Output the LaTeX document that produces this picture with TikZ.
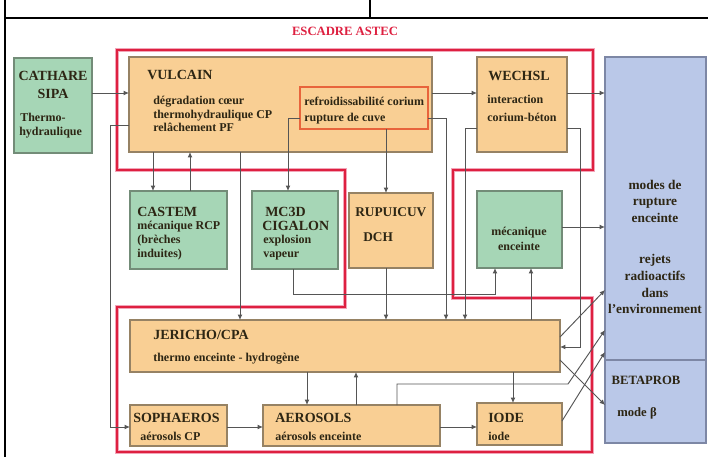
\documentclass[tikz,border=0pt]{standalone}
\usepackage{fontspec}
\setmainfont{Liberation Serif}
\usetikzlibrary{arrows.meta,fit}
\definecolor{ofill}{RGB}{249,207,148}
\definecolor{odraw}{RGB}{150,130,100}
\definecolor{gfill}{RGB}{166,214,182}
\definecolor{gdraw}{RGB}{115,140,120}
\definecolor{bfill}{RGB}{186,200,232}
\definecolor{bdraw}{RGB}{125,135,165}
\definecolor{redf}{RGB}{222,32,64}
\definecolor{pinkf}{RGB}{242,165,185}
\definecolor{linec}{RGB}{85,85,85}
\definecolor{txtc}{RGB}{45,38,20}
\definecolor{innerd}{RGB}{232,100,60}
\tikzset{
  obox/.style={draw=odraw, fill=ofill, line width=0.9pt, inner sep=0pt, outer sep=0pt},
  gbox/.style={draw=gdraw, fill=gfill, line width=0.9pt, inner sep=0pt, outer sep=0pt},
  bbox/.style={draw=bdraw, fill=bfill, line width=0.9pt, inner sep=0pt, outer sep=0pt},
  ibox/.style={draw=innerd, fill=ofill, line width=0.9pt, inner sep=0pt, outer sep=0pt},
  ttl/.style={font=\fontsize{10.5}{12}\selectfont\bfseries, text=txtc, inner sep=0pt, anchor=base west},
  bdy/.style={font=\fontsize{9}{10.5}\selectfont\bfseries, text=txtc, inner sep=0pt, anchor=base west},
  btxt/.style={font=\fontsize{10}{12}\selectfont\bfseries, text=txtc, inner sep=0pt, anchor=base},
  conn/.style={draw=linec, line width=0.7pt, -{Latex[length=4pt,width=3.6pt]}},
  redframe/.style={draw=redf, line width=1.6pt, line join=miter},
  pinkframe/.style={draw=pinkf, line width=3.6pt, line join=miter},
  tableline/.style={draw=black, line width=0.9pt}
}
\begin{document}
\begin{tikzpicture}[x=0.75pt,y=-0.75pt]
\useasboundingbox (0,0) rectangle (708,457);
\fill[white] (0,0) rectangle (708,457);
% table lines
\draw[tableline] (5,0) -- (5,457);
\draw[tableline] (5,18) -- (708,18);
\draw[tableline] (370,0) -- (370,18);
% title
\node[font=\fontsize{9.5}{11}\selectfont\bfseries, text=redf, inner sep=0pt] (title) at (345,31) {ESCADRE ASTEC};
% red frame
\draw[pinkframe] (117,50) -- (593,50) -- (593,170) -- (453,170) -- (453,298) -- (592,298) -- (592,452) -- (117,452) -- (117,307) -- (345,307) -- (345,170) -- (117,170) -- cycle;
\draw[redframe] (117,50) -- (593,50) -- (593,170) -- (453,170) -- (453,298) -- (592,298) -- (592,452) -- (117,452) -- (117,307) -- (345,307) -- (345,170) -- (117,170) -- cycle;
% boxes
\node[gbox, fit={(14,58) (92,153)}] (cathare) {};
\node[obox, fit={(129,57) (432,152)}] (vulcain) {};
\node[ibox, fit={(300,87) (428,129)}] (inner) {};
\node[obox, fit={(477,57) (567,152)}] (wechsl) {};
\node[bbox, fit={(605,57) (706,360)}] (bluetop) {};
\node[bbox, fit={(605,360) (706,443)}] (bluebot) {};
\node[gbox, fit={(130,191) (227,269)}] (castem) {};
\node[gbox, fit={(252,191) (338,269)}] (mc3d) {};
\node[obox, fit={(349,193) (433,268)}] (rupuicuv) {};
\node[gbox, fit={(477,191) (562,268)}] (meca) {};
\node[obox, fit={(130,320) (560,372)}] (jericho) {};
\node[obox, fit={(130,405) (227,446)}] (sophaeros) {};
\node[obox, fit={(263,405) (440,446)}] (aerosols) {};
\node[obox, fit={(477,403) (562,445)}] (iode) {};
% texts
\node[ttl, anchor=base] (catT1) at (53,80) {CATHARE};
\node[ttl, anchor=base] (catT2) at (53,98) {SIPA};
\node[bdy] (catB1) at (20,121.5) {Thermo-};
\node[bdy] (catB2) at (19,135.5) {hydraulique};
\node[ttl] (vulT) at (147,79.5) {VULCAIN};
\node[bdy] (vulB1) at (153,104.5) {dégradation cœur};
\node[bdy] (vulB2) at (153,118.5) {thermohydraulique CP};
\node[bdy] (vulB3) at (153,131.5) {relâchement PF};
\node[bdy] (innB1) at (304,105) {refroidissabilité corium};
\node[bdy] (innB2) at (304,121) {rupture de cuve};
\node[ttl] (wecT) at (488,80) {WECHSL};
\node[bdy] (wecB1) at (487,103.5) {interaction};
\node[bdy] (wecB2) at (487,121.5) {corium-béton};
\node[ttl] (casT) at (137,216.5) {CASTEM};
\node[bdy] (casB1) at (137,229.5) {mécanique RCP};
\node[bdy] (casB2) at (137,243.5) {(brèches};
\node[bdy] (casB3) at (137,257.5) {induites)};
\node[ttl] (mcT1) at (265,216.5) {MC3D};
\node[ttl] (mcT2) at (262,230) {CIGALON};
\node[bdy] (mcB1) at (263,243.5) {explosion};
\node[bdy] (mcB2) at (263,257.5) {vapeur};
\node[ttl, font=\fontsize{10}{12}\selectfont\bfseries] (rupT) at (355,216.5) {RUPUICUV};
\node[ttl, font=\fontsize{10}{12}\selectfont\bfseries] (rupT2) at (363,241) {DCH};
\node[bdy, anchor=base] (mecB1) at (519,235) {mécanique};
\node[bdy, anchor=base] (mecB2) at (519,250) {enceinte};
\node[btxt] (bl1) at (655,189) {modes de};
\node[btxt] (bl2) at (655,205.5) {rupture};
\node[btxt] (bl3) at (655,222) {enceinte};
\node[btxt] (bl4) at (655,263.5) {rejets};
\node[btxt] (bl5) at (655,280.5) {radioactifs};
\node[btxt] (bl6) at (655,297.5) {dans};
\node[btxt] (bl7) at (655,313.5) {l'environnement};
\node[ttl, anchor=base, font=\fontsize{9.5}{11}\selectfont\bfseries] (betT) at (646,384.5) {BETAPROB};
\node[bdy, anchor=base, font=\fontsize{9.5}{11}\selectfont\bfseries] (betB) at (637,416) {mode β};
\node[ttl] (jerT) at (153,339) {JERICHO/CPA};
\node[bdy] (jerB) at (153,361.5) {thermo enceinte - hydrogène};
\node[ttl] (sopT) at (133,422.5) {SOPHAEROS};
\node[bdy] (sopB) at (140,440.5) {aérosols CP};
\node[ttl] (aerT) at (275,422.5) {AEROSOLS};
\node[bdy] (aerB) at (275,440.5) {aérosols enceinte};
\node[ttl] (iodT) at (488,422.5) {IODE};
\node[bdy] (iodB) at (488,440.5) {iode};
% connectors
\draw[conn] (cathare.east |- 0,93) -- (vulcain.west |- 0,93);
\draw[conn] (vulcain.west |- 0,125) -| (110,427) -- (sophaeros.west |- 0,427);
\draw[conn] (vulcain.south -| 153,0) -- (castem.north -| 153,0);
\draw[conn] (castem.north -| 190,0) -- (vulcain.south -| 190,0);
\draw[conn] (vulcain.south -| 240,0) -- (jericho.north -| 240,0);
\draw[conn] (inner.west |- 0,118) -| (mc3d.north -| 288,0);
\draw[conn] (inner.south -| 386,0) -- (rupuicuv.north -| 386,0);
\draw[conn] (vulcain.east |- 0,93) -- (wechsl.west |- 0,93);
\draw[conn] (inner.east |- 0,118) -| (jericho.north -| 446,0);
\draw[conn] (wechsl.west |- 0,128) -| (jericho.north -| 465,0);
\draw[conn] (wechsl.east |- 0,93) -- (bluetop.west |- 0,93);
\draw[conn] (wechsl.east |- 0,128) -| (580,347) -- (jericho.east |- 0,347);
\draw[conn] (mc3d.south -| 293,0) |- (495,294) -- (meca.south -| 495,0);
\draw[conn] (jericho.north -| 531,0) -- (meca.south -| 531,0);
\draw[conn] (meca.east |- 0,227) -- (bluetop.west |- 0,227);
\draw[conn] (rupuicuv.south -| 386,0) -- (jericho.north -| 386,0);
\draw[conn] (jericho.south -| 307,0) -- (aerosols.north -| 307,0);
\draw[conn] (aerosols.north -| 356,0) -- (jericho.south -| 356,0);
\draw[conn] (sophaeros.east |- 0,427) -- (aerosols.west |- 0,427);
\draw[conn] (aerosols.east |- 0,427) -- (iode.west |- 0,427);
\draw[conn] (jericho.south -| 513,0) -- (iode.north -| 513,0);
\draw[conn] (jericho.east |- 0,337) -- (bluetop.west |- 0,290);
\draw[conn] (jericho.east |- 0,360) -- (bluebot.west |- 0,405);
\draw[conn] (aerosols.north -| 397,0) |- (568,384) -- (bluetop.west |- 0,330);
\draw[conn] (iode.east |- 0,421) -- (bluetop.west |- 0,352);
\end{tikzpicture}
\end{document}
